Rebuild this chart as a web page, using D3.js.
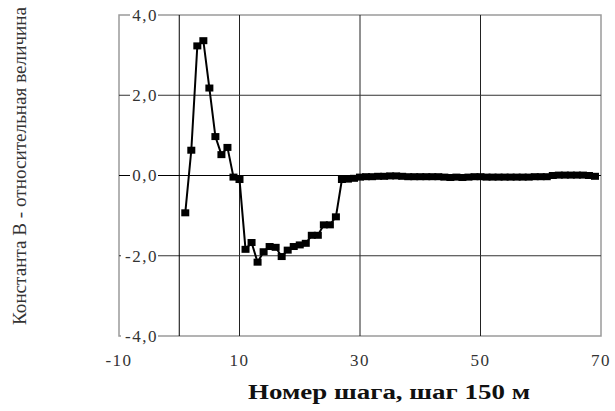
<!DOCTYPE html>
<html>
<head>
<meta charset="utf-8">
<script src="https://cdn.jsdelivr.net/npm/d3@7"></script>
<style>
  body { margin: 0; background: #fff; }
</style>
</head>
<body>
<script>
// data: step number and constant B (relative value)
var steps = d3.range(1, 70);
var values = [
  -0.93, 0.63, 3.23, 3.36, 2.18, 0.97, 0.52, 0.70, -0.04, -0.10,
  -1.84, -1.67, -2.16, -1.90, -1.77, -1.79, -2.02, -1.86, -1.77, -1.73,
  -1.69, -1.49, -1.49, -1.23, -1.23, -1.03, -0.10, -0.09, -0.07, -0.04,
  -0.03, -0.03, -0.02, -0.02, -0.01, -0.01, -0.02, -0.03, -0.03, -0.03,
  -0.03, -0.03, -0.03, -0.04, -0.05, -0.04, -0.05, -0.04, -0.03, -0.03,
  -0.04, -0.04, -0.04, -0.04, -0.04, -0.04, -0.04, -0.04, -0.03, -0.03,
  -0.03, 0.00, 0.01, 0.01, 0.01, 0.01, 0.01, 0.00, -0.02
];
var xTicks = [-10, 10, 30, 50, 70];
var yTicks = [4, 2, 0, -2, -4];
var xGrid = [10, 30, 50];
var yGrid = [2, -2];

var width = 615, height = 411;
var serif = "'Liberation Serif', 'Times New Roman', 'DejaVu Serif', serif";

var svg = d3.select("body").append("svg")
  .attr("width", width)
  .attr("height", height)
  .style("font-family", serif);

var x = d3.scaleLinear().domain([-10, 70]).range([119, 601]);
var y = d3.scaleLinear().domain([-4, 4]).range([336, 15]);

var data = steps.map(function(s, i){ return {x: s, y: values[i]}; });

// plot border (grey)
svg.append("rect")
  .attr("x", x(-10)).attr("y", y(4))
  .attr("width", x(70) - x(-10)).attr("height", y(-4) - y(4))
  .attr("fill", "none").attr("stroke", "#9a9a9a").attr("stroke-width", 1.5);

// gridlines
svg.selectAll(".vg").data(xGrid).enter().append("line")
  .attr("x1", function(d){ return x(d); }).attr("x2", function(d){ return x(d); })
  .attr("y1", y(4)).attr("y2", y(-4))
  .attr("stroke", "#222").attr("stroke-width", 1);

svg.selectAll(".hg").data(yGrid).enter().append("line")
  .attr("x1", x(-10)).attr("x2", x(70))
  .attr("y1", function(d){ return y(d); }).attr("y2", function(d){ return y(d); })
  .attr("stroke", "#333").attr("stroke-width", 1);

// axes crossing at zero
svg.append("line")
  .attr("x1", x(0)).attr("x2", x(0)).attr("y1", y(4)).attr("y2", y(-4))
  .attr("stroke", "#000").attr("stroke-width", 1);
svg.append("line")
  .attr("x1", x(-10)).attr("x2", x(70)).attr("y1", y(0)).attr("y2", y(0))
  .attr("stroke", "#000").attr("stroke-width", 1);

// y tick labels with white box behind (they overlap the border)
var fmt = function(d){ return d3.format(".1f")(d).replace(".", ",").replace("\u2212", "-"); };
var yl = svg.selectAll(".yl").data(yTicks).enter().append("g")
  .attr("transform", function(d){ return "translate(158," + y(d) + ")"; });
yl.append("rect")
  .attr("x", function(d){ return d < 0 ? -37 : -28; }).attr("y", -6)
  .attr("width", function(d){ return d < 0 ? 37 : 28; }).attr("height", 12)
  .attr("fill", "#fff");
yl.append("text")
  .attr("text-anchor", "end")
  .attr("dy", "0.35em")
  .attr("fill", "#333")
  .style("font-family", serif)
  .style("font-size", "17px")
  .style("letter-spacing", "1.5px")
  .text(fmt);

// x tick labels
svg.selectAll(".xl").data(xTicks).enter().append("text")
  .attr("x", function(d){ return x(d); })
  .attr("y", 366)
  .attr("text-anchor", "middle")
  .attr("fill", "#333")
  .style("font-family", serif)
  .style("font-size", "17px")
  .style("letter-spacing", "1.5px")
  .text(function(d){ return d; });

// series line and markers
var line = d3.line().x(function(d){ return x(d.x); }).y(function(d){ return y(d.y); });
svg.append("path")
  .datum(data)
  .attr("d", line)
  .attr("fill", "none")
  .attr("stroke", "#000")
  .attr("stroke-width", 2);

svg.selectAll(".pt").data(data).enter().append("rect")
  .attr("x", function(d){ return x(d.x) - 4; })
  .attr("y", function(d){ return y(d.y) - 3.5; })
  .attr("width", 8).attr("height", 7)
  .attr("fill", "#000");

// axis titles
svg.append("text")
  .attr("x", 389).attr("y", 399)
  .attr("text-anchor", "middle")
  .attr("textLength", 282).attr("lengthAdjust", "spacingAndGlyphs")
  .style("font-family", serif)
  .style("font-size", "20px").style("font-weight", "bold")
  .attr("fill", "#111")
  .text("Номер шага, шаг 150 м");

svg.append("text")
  .attr("transform", "translate(26,166) rotate(-90)")
  .attr("text-anchor", "middle")
  .attr("textLength", 318).attr("lengthAdjust", "spacingAndGlyphs")
  .style("font-family", serif)
  .style("font-size", "18px")
  .attr("fill", "#333")
  .text("Константа В - относительная величина");
</script>
</body>
</html>
